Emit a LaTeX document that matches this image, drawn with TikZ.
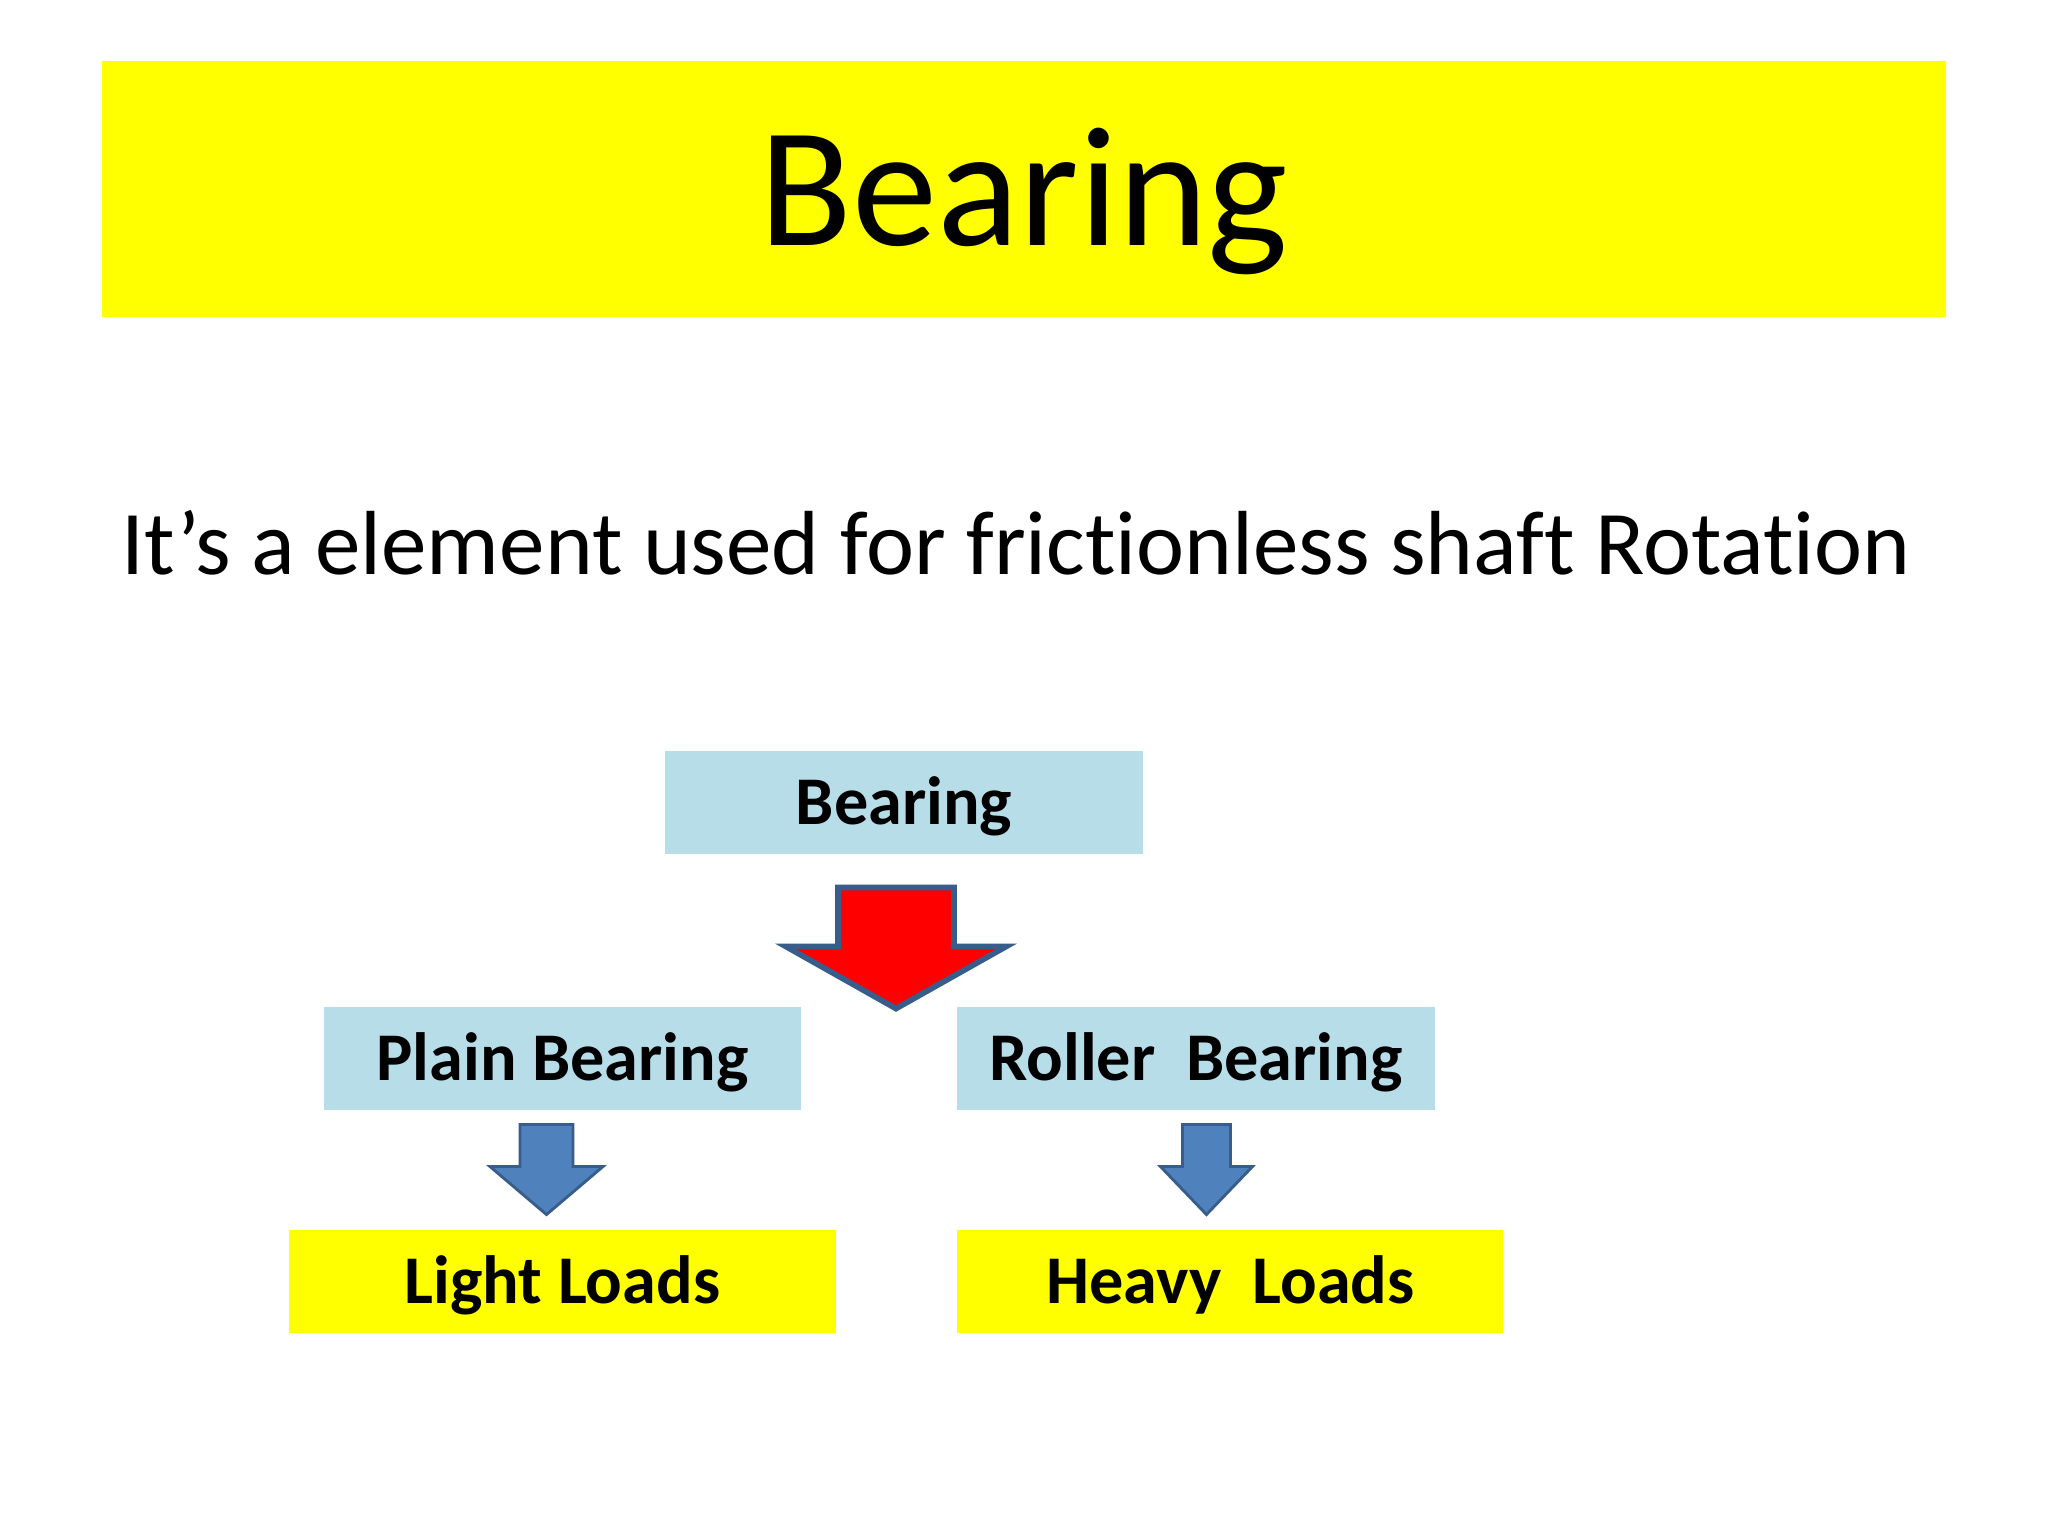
\documentclass[tikz,border=0pt]{standalone}
\usepackage{fontspec}
\setmainfont{Carlito}[Ligatures=CommonOff]
\usepackage{tikz}
\usetikzlibrary{positioning}
\definecolor{slideyellow}{HTML}{FFFF00}
\definecolor{paleblue}{HTML}{B7DEE8}
\definecolor{arrowblue}{HTML}{4F81BD}
\definecolor{edgeblue}{HTML}{385D8A}

\begin{document}
\begin{tikzpicture}[x=0.3515625pt, y=-0.3515625pt]
\tikzstyle{band}=[fill=slideyellow, minimum width=648.3pt, minimum height=90pt, text height=40pt, text depth=0pt, font=\fontsize{60pt}{72pt}\selectfont]
\tikzstyle{kind}=[fill=paleblue, minimum width=167.8pt, minimum height=36.2pt, text height=15.5pt, text depth=0pt, font=\fontsize{24pt}{29pt}\selectfont\bfseries]
\tikzstyle{load}=[fill=slideyellow, minimum width=192pt, minimum height=36.2pt, text height=15.5pt, text depth=0pt, font=\fontsize{24pt}{29pt}\selectfont\bfseries]
\tikzstyle{bigarrow}=[fill=red, draw=edgeblue, line width=2pt, line join=miter]
\tikzstyle{smallarrow}=[fill=arrowblue, draw=edgeblue, line width=1pt, line join=miter]
\useasboundingbox[fill=white] (0,0) rectangle (2048,1536);

\node[band] (title) at (1024,189) {Bearing};
\node[anchor=base, font=\fontsize{32pt}{38pt}\selectfont] (sub) at (1016,574) {It’s a element used for frictionless shaft Rotation};

\node[kind] (0) at (904,802.5) {Bearing};
\node[kind] (1) at (562.5,1058.5) {Plain Bearing};
\node[kind] (2) [right=54.5pt of 1] {Roller\ \ Bearing};
\node[load] (3) [below=41.8pt of 1] {Light Loads};
\node[load] (4) [below right=41.8pt and 0pt of 2.south west] {Heavy\ \ Loads};

\draw[bigarrow] (0.south) ++(-66,33) -- ++(116,0) -- ++(0,59) -- ++(52,0) -- ++(-110,62) -- ++(-110,-62) -- ++(52,0) -- cycle;
\draw[smallarrow] (1.south) ++(-42.5,14) -- ++(53,0) -- ++(0,42) -- ++(30,0) -- ++(-56.5,48) -- ++(-56.5,-48) -- ++(30,0) -- cycle;
\draw[smallarrow] (2.south) ++(-13.5,14) -- ++(48,0) -- ++(0,42) -- ++(22,0) -- ++(-46,48) -- ++(-46,-48) -- ++(22,0) -- cycle;
%\draw[smallarrow] (2.south) -- (4.north);

\end{tikzpicture}
\end{document}
